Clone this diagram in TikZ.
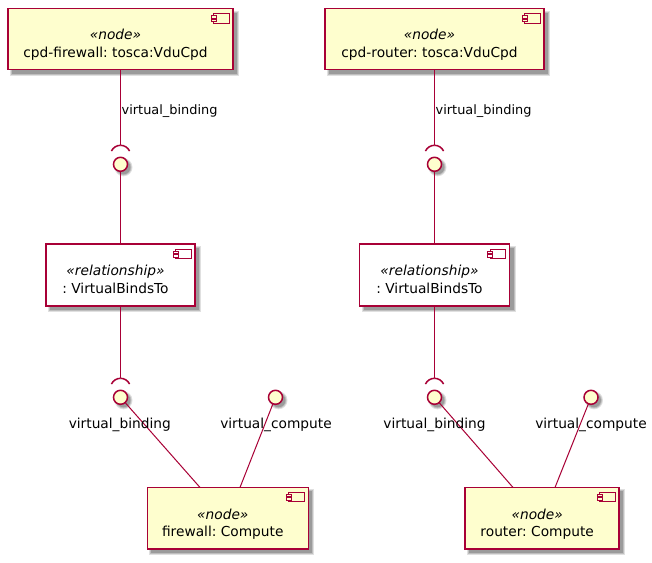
\documentclass[tikz,border=0pt]{standalone}
\usepackage{fontspec}
\setmainfont{DejaVu Sans}
\frenchspacing
\definecolor{pborder}{HTML}{A80036}
\definecolor{pfill}{HTML}{FEFECE}
\pgfdeclarelayer{bg}
\pgfsetlayers{bg,main}
\tikzset{
  comp/.style={draw=pborder, line width=1.5pt, rectangle, inner sep=0pt, outer sep=0pt},
  ycomp/.style={comp, fill=pfill},
  wcomp/.style={comp, fill=white},
  iface/.style={circle, draw=pborder, fill=pfill, line width=1.5pt, minimum size=14pt, inner sep=0pt, outer sep=0pt},
  link/.style={draw=pborder, line width=1pt},
  sockarc/.style={draw=pborder, line width=1.5pt},
  stereo/.style={font=\fontsize{13.75}{16}\selectfont\itshape, anchor=base, inner sep=0pt},
  ctext/.style={font=\fontsize{13.75}{16}\selectfont, anchor=base, inner sep=0pt},
  elabel/.style={font=\fontsize{12.9}{15}\selectfont, anchor=base west, inner sep=0pt},
  ilabel/.style={font=\fontsize{13.75}{16}\selectfont, anchor=base, inner sep=0pt},
}
\newcommand\pubshadow[1]{%
  \foreach \e/\o in {2/0.12,1/0.15,0/0.18}{%
    \fill[black,opacity=\o] ([shift={({4-\e},{4-\e})}]#1.north west) rectangle ([shift={({4+\e},{4+\e})}]#1.south east);}%
}
\newcommand\pubcshadow[1]{%
  \foreach \e/\o in {2/0.12,1/0.15,0/0.18}{%
    \fill[black,opacity=\o] ([shift={(3,3)}]#1.center) circle[radius={7pt+\e pt}];}%
}
\newcommand\pubicon[2]{%
  \filldraw[draw=pborder, fill=#2, line width=1pt] ([shift={(-19.5,5)}]#1.north east) rectangle ([shift={(-4,14.5)}]#1.north east);
  \filldraw[draw=pborder, fill=#2, line width=1pt] ([shift={(-22,7)}]#1.north east) rectangle ([shift={(-17,9.5)}]#1.north east);
  \filldraw[draw=pborder, fill=#2, line width=1pt] ([shift={(-22,10.5)}]#1.north east) rectangle ([shift={(-17,13)}]#1.north east);
}
\begin{document}
\begin{tikzpicture}[x=1pt,y=-1pt]
\useasboundingbox (0,0) rectangle (652,562);

% boxes
\node[ycomp, minimum width=225pt, minimum height=61pt] (topL) at (120.5,39.2) {};
\node[ycomp, minimum width=219pt, minimum height=61pt] (topR) at (434.5,39.2) {};
\node[wcomp, minimum width=149pt, minimum height=62pt] (relL) at (120.5,275.2) {};
\node[wcomp, minimum width=150pt, minimum height=62pt] (relR) at (434.5,275.2) {};
\node[ycomp, minimum width=161pt, minimum height=61.5pt] (compL) at (227.8,518.2) {};
\node[ycomp, minimum width=154pt, minimum height=61.5pt] (compR) at (542.2,518.2) {};

% interfaces
\node[iface] (c1) at (120.5,164.3) {};
\node[iface] (c2) at (434.5,164.3) {};
\node[iface] (c3) at (120.5,397.3) {};
\node[iface] (c4) at (275.5,397.3) {};
\node[iface] (c5) at (434.5,397.3) {};
\node[iface] (c6) at (591,397.3) {};

% socket tops
\coordinate (s1) at (120.5,145.3);
\coordinate (s2) at (434.5,145.3);
\coordinate (s3) at (120.5,378.3);
\coordinate (s5) at (434.5,378.3);

\begin{pgfonlayer}{bg}
  \fill[white] (0,0) rectangle (652,562);
  \pubshadow{topL}\pubshadow{topR}\pubshadow{relL}\pubshadow{relR}\pubshadow{compL}\pubshadow{compR}
  \pubcshadow{c1}\pubcshadow{c2}\pubcshadow{c3}\pubcshadow{c4}\pubcshadow{c5}\pubcshadow{c6}
\end{pgfonlayer}

% icons
\pubicon{topL}{pfill}
\pubicon{topR}{pfill}
\pubicon{relL}{white}
\pubicon{relR}{white}
\pubicon{compL}{pfill}
\pubicon{compR}{pfill}

% texts
\node[stereo] (topLs) at ([shift={(-5,0.3)}]topL.center) {«node»};
\node[ctext] (topLt) at ([shift={(-5,18)}]topL.center) {cpd-firewall: tosca:VduCpd};
\node[stereo] (topRs) at ([shift={(-5,0.3)}]topR.center) {«node»};
\node[ctext] (topRt) at ([shift={(-5,18)}]topR.center) {cpd-router: tosca:VduCpd};
\node[stereo] (relLs) at ([shift={(-5,0.3)}]relL.center) {«relationship»};
\node[ctext] (relLt) at ([shift={(-5,18)}]relL.center) {: VirtualBindsTo};
\node[stereo] (relRs) at ([shift={(-5,0.3)}]relR.center) {«relationship»};
\node[ctext] (relRt) at ([shift={(-5,18)}]relR.center) {: VirtualBindsTo};
\node[stereo] (compLs) at ([shift={(-5,0.8)}]compL.center) {«node»};
\node[ctext] (compLt) at ([shift={(-5,18.3)}]compL.center) {firewall: Compute};
\node[stereo] (compRs) at ([shift={(-5,0.8)}]compR.center) {«node»};
\node[ctext] (compRt) at ([shift={(-5,18.3)}]compR.center) {router: Compute};

% connectors
\draw[link] (topL.south) -- (s1);
\draw[link] (topR.south) -- (s2);
\draw[link] (c1.south) -- (relL.north);
\draw[link] (c2.south) -- (relR.north);
\draw[link] (relL.south) -- (s3);
\draw[link] (relR.south) -- (s5);
\draw[link] (c3) -- ([xshift=-27.8pt]compL.north);
\draw[link] (c4) -- ([xshift=12.2pt]compL.north);
\draw[link] (c5) -- ([xshift=-29.2pt]compR.north);
\draw[link] (c6) -- ([xshift=12.8pt]compR.north);

% socket arcs
\foreach \s in {s1,s2,s3,s5}{
  \draw[sockarc] (\s) arc[start angle=90, end angle=155, radius=10pt];
  \draw[sockarc] (\s) arc[start angle=90, end angle=25, radius=10pt];
}

% labels
\node[elabel] (l1) at (121.5,114) {virtual\_binding};
\node[elabel] (l2) at (435.5,114) {virtual\_binding};
\node[ilabel] (l3) at (119.8,428.3) {virtual\_binding};
\node[ilabel] (l4) at (276,428.3) {virtual\_compute};
\node[ilabel] (l5) at (434.5,428.3) {virtual\_binding};
\node[ilabel] (l6) at (591,428.3) {virtual\_compute};
\end{tikzpicture}
\end{document}
